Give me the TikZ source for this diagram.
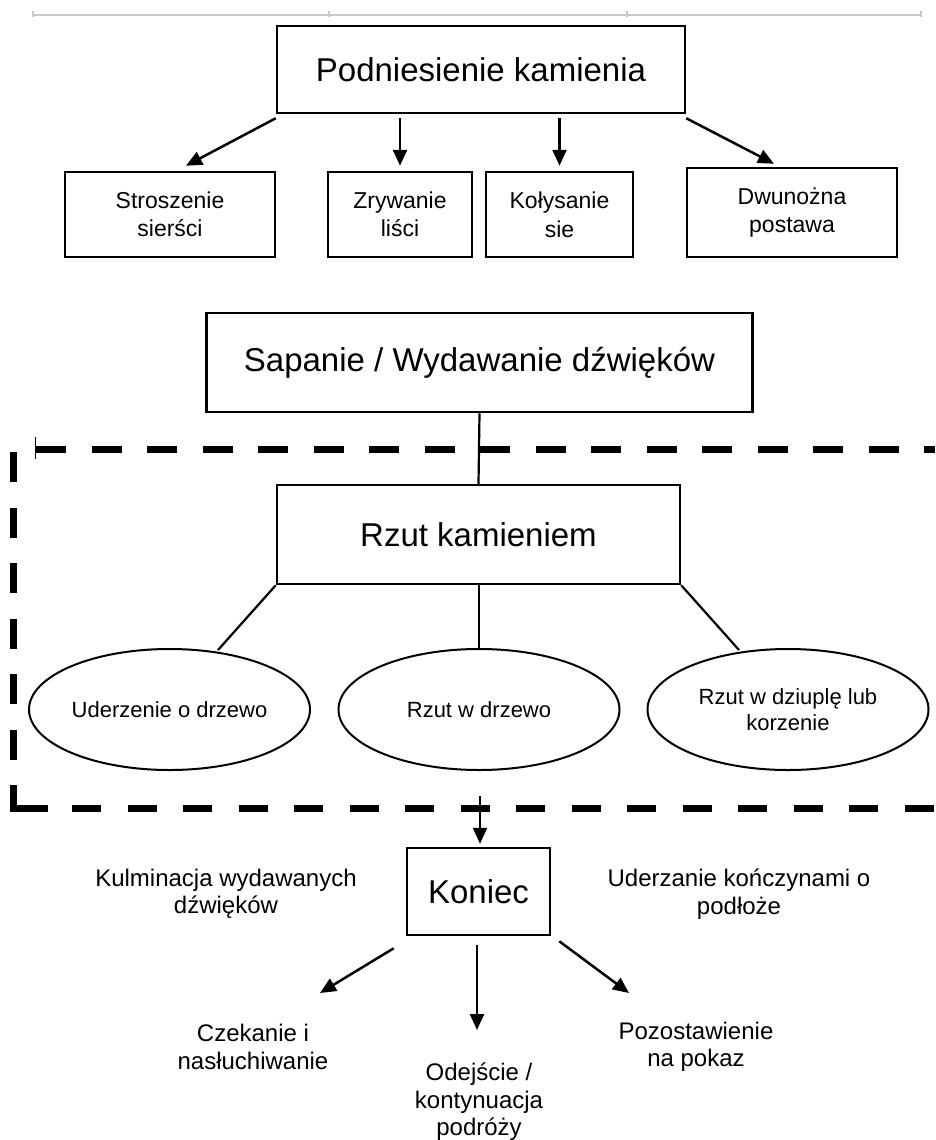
\documentclass[tikz,border=0pt]{standalone}
\usepackage{fontspec}
\setmainfont{Liberation Sans}
\usetikzlibrary{shapes.geometric,arrows.meta,calc}
\begin{document}
\begin{tikzpicture}[x=1pt,y=-1pt,
 bigbox/.style={draw,line width=2.5pt,inner sep=0pt,font=\fontsize{33}{38}\selectfont},
 smallbox/.style={draw,line width=2.5pt,inner sep=0pt,align=center,font=\fontsize{23}{28}\selectfont,minimum height=85pt},
 oval/.style={draw,ellipse,line width=2pt,inner sep=0pt,minimum width=281pt,minimum height=121pt,align=center,font=\fontsize{22}{26}\selectfont},
 lbl/.style={align=center,font=\fontsize{24}{27.5}\selectfont,inner sep=0pt},
 arr/.style={line width=2.5pt,-{Triangle[length=16pt,width=14pt]}},
 conn/.style={line width=2.2pt},
 dashline/.style={line width=7pt,dash pattern=on 30pt off 25.5pt},
 ruler/.style={line width=1.5pt,color=black!22}]
\useasboundingbox (0,0) rectangle (935,1140);
\fill[white] (0,0) rectangle (935,1140);
% ruler
\draw[ruler] (33,15) -- (921,15);
\foreach \xx in {33,329,627,921} \draw[ruler] (\xx,11) -- (\xx,17);
% top part
\node[bigbox,minimum width=408pt,minimum height=87pt] (p) at (481,69.5) {Podniesienie kamienia};
\node[smallbox,minimum width=210pt] (s1) at (170,214.5) {Stroszenie\\sierści};
\node[smallbox,minimum width=144pt] (s2) at (400,214.5) {Zrywanie\\liści};
\node[smallbox,minimum width=147pt] (s3) at (559.5,214.5) {Kołysanie\\[1pt]sie};
\node[smallbox,minimum width=210pt,minimum height=89pt] (s4) at (792,212.5) {Dwunożna\\postawa};
\draw[arr] ([yshift=-4pt]p.south west) -- ([xshift=16pt,yshift=5pt]s1.north);
\draw[arr] ([yshift=-4pt]p.south -| s2.north) -- ([yshift=5pt]s2.north);
\draw[arr] ([yshift=-4pt]p.south -| s3.north) -- ([yshift=5pt]s3.north);
\draw[arr] ([yshift=-4pt]p.south east) -- ([xshift=-18pt,yshift=3pt]s4.north);
% middle
\node[bigbox,minimum width=546pt,minimum height=99pt] (sap) at (479.5,362.5) {Sapanie / Wydawanie dźwięków};
\node[bigbox,minimum width=403pt,minimum height=99pt] (rz) at (478.5,534.5) {Rzut kamieniem};
\node[oval] (e1) at (169.5,709.5) {Uderzenie o drzewo};
\node[oval] (e2) at (479,709.5) {Rzut w drzewo};
\node[oval] (e3) at (788,709.5) {Rzut w dziuplę lub\\korzenie};
% dashed frame
\draw[dashline] (36,449) -- (935,449);
\draw[dashline] (13,452) -- (13,765);
\draw[line width=7pt,line join=miter] (13,785) -- (13,808) -- (48,808);
\draw[dashline,dash pattern=on 29pt off 26.5pt] (72,808) -- (935,808);
\draw[line width=1pt] (35,437) -- (35,459);
% connectors
\draw[conn] (sap.south) -- (rz.north);
\draw[conn] (rz.south west) -- ([xshift=48.5pt,yshift=-2pt]e1.north);
\draw[conn] (rz.south -| e2.north) -- (e2.north);
\draw[conn] (rz.south east) -- ([xshift=-49pt,yshift=-2pt]e3.north);
% bottom
\node[bigbox,minimum width=143pt,minimum height=87pt] (k) at (478.5,891.5) {Koniec};
\coordinate (kin) at (480,796);
\draw[arr] (kin) -- ([yshift=3pt]k.north -| kin);
\node[lbl] (l1) at (226,894) {Kulminacja wydawanych\\dźwięków};
\node[lbl] (l2) at (739,894) {Uderzanie kończynami o\\podłoże};
\node[lbl] (b1) at (253,1047) {Czekanie i\\nasłuchiwanie};
\node[lbl] (b2) at (479,1102) {Odejście /\\kontynuacja\\podróży};
\node[lbl] (b3) at (696,1047) {Pozostawienie\\na pokaz};
\coordinate (a1) at (320,993);
\coordinate (a2) at (477,1030);
\coordinate (a3) at (629,993);
\draw[arr] ([xshift=-12pt,yshift=-12pt]k.south west) -- (a1);
\draw[arr] ([yshift=-9pt]k.south -| a2) -- (a2);
\draw[arr] ([xshift=8pt,yshift=-5pt]k.south east) -- (a3);
\end{tikzpicture}
\end{document}
